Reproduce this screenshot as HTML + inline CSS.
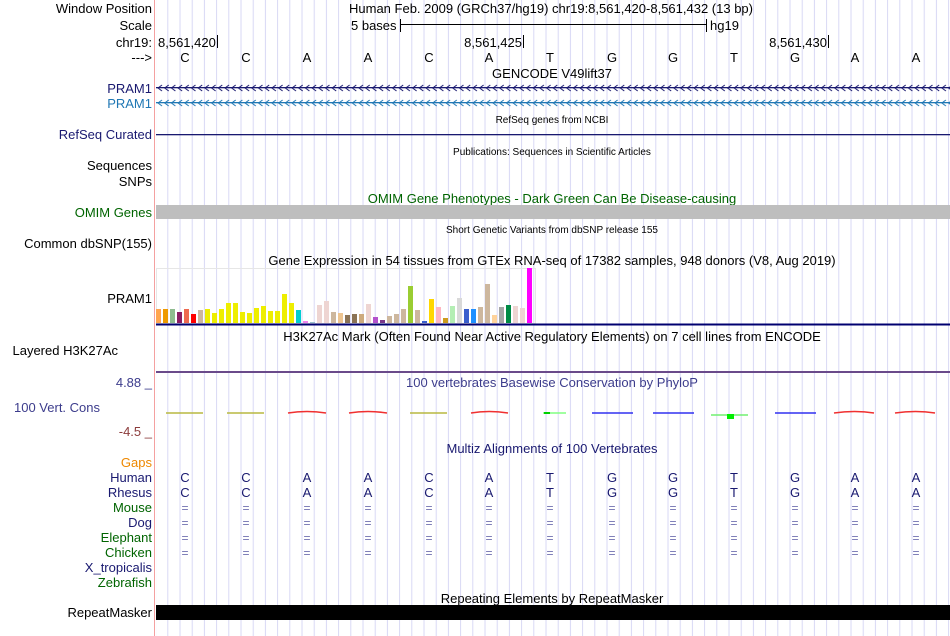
<!DOCTYPE html>
<html><head><meta charset="utf-8"><style>
html,body{margin:0;padding:0;background:#fff;width:950px;height:636px;overflow:hidden}
svg text{font-family:"Liberation Sans",Arial,sans-serif}
</style></head><body>
<svg width="950" height="636" xmlns="http://www.w3.org/2000/svg">
<defs>
<pattern id="grid" x="167.3" y="0" width="12.2" height="636" patternUnits="userSpaceOnUse">
<rect x="0" y="0" width="1" height="636" fill="#d8d8f4"/>
</pattern>
<pattern id="chev1" x="157" y="84" width="6.7" height="8" patternUnits="userSpaceOnUse">
<polyline points="5,1 1,4 5,7" fill="none" stroke="#191970" stroke-width="1"/>
</pattern>
<pattern id="chev2" x="157" y="99" width="6.7" height="8" patternUnits="userSpaceOnUse">
<polyline points="5,1 1,4 5,7" fill="none" stroke="#1f77b4" stroke-width="1"/>
</pattern>
</defs>
<rect x="156" y="0" width="794" height="636" fill="url(#grid)"/>
<rect x="154" y="0" width="1" height="636" fill="#f4a0a0"/>

<g font-size="13" fill="#000" text-anchor="end">
<text x="152" y="13">Window Position</text>
<text x="152" y="30">Scale</text>
<text x="152" y="47">chr19:</text>
<text x="152" y="62">---&gt;</text>
<text x="152" y="93" fill="#191970">PRAM1</text>
<text x="152" y="108" fill="#1f77b4">PRAM1</text>
<text x="152" y="139" fill="#191970">RefSeq Curated</text>
<text x="152" y="170">Sequences</text>
<text x="152" y="186">SNPs</text>
<text x="152" y="217" fill="#006400">OMIM Genes</text>
<text x="152" y="248">Common dbSNP(155)</text>
<text x="152" y="303">PRAM1</text>
<text x="118" y="355">Layered H3K27Ac</text>
<text x="152" y="387" fill="#3c3c8c">4.88 _</text>
<text x="100" y="412" fill="#3c3c8c">100 Vert. Cons</text>
<text x="152" y="436" fill="#8c3c3c">-4.5 _</text>
<text x="152" y="467" fill="#ee8800">Gaps</text>
<text x="152" y="482" fill="#191970">Human</text>
<text x="152" y="497" fill="#191970">Rhesus</text>
<text x="152" y="512" fill="#006400">Mouse</text>
<text x="152" y="527" fill="#191970">Dog</text>
<text x="152" y="542" fill="#006400">Elephant</text>
<text x="152" y="557" fill="#006400">Chicken</text>
<text x="152" y="572" fill="#191970">X_tropicalis</text>
<text x="152" y="587" fill="#006400">Zebrafish</text>
<text x="152" y="617">RepeatMasker</text>
</g>

<g font-size="13" fill="#000">
<text x="349" y="13">Human Feb. 2009 (GRCh37/hg19)   chr19:8,561,420-8,561,432 (13 bp)</text>
<text x="351" y="30">5 bases</text>
<text x="710" y="30">hg19</text>
<text x="158" y="47">8,561,420</text>
<text x="522" y="47" text-anchor="end">8,561,425</text>
<text x="827" y="47" text-anchor="end">8,561,430</text>
<text x="552" y="78" text-anchor="middle">GENCODE V49lift37</text>
<text x="552" y="265" text-anchor="middle">Gene Expression in 54 tissues from GTEx RNA-seq of 17382 samples, 948 donors (V8, Aug 2019)</text>
<text x="552" y="341" text-anchor="middle">H3K27Ac Mark (Often Found Near Active Regulatory Elements) on 7 cell lines from ENCODE</text>
<text x="552" y="387" text-anchor="middle" fill="#3c3c8c">100 vertebrates Basewise Conservation by PhyloP</text>
<text x="552" y="453" text-anchor="middle" fill="#191970">Multiz Alignments of 100 Vertebrates</text>
<text x="552" y="603" text-anchor="middle">Repeating Elements by RepeatMasker</text>
<text x="552" y="203" text-anchor="middle" fill="#006400">OMIM Gene Phenotypes - Dark Green Can Be Disease-causing</text>
</g>
<g font-size="10" fill="#000" text-anchor="middle">
<text x="552" y="123">RefSeq genes from NCBI</text>
<text x="552" y="155">Publications: Sequences in Scientific Articles</text>
<text x="552" y="233">Short Genetic Variants from dbSNP release 155</text>
</g>

<!-- scale bar -->
<rect x="400" y="19" width="1" height="13" fill="#000"/>
<rect x="706" y="19" width="1" height="13" fill="#000"/>
<rect x="400" y="24" width="306" height="1" fill="#000"/>
<rect x="217" y="35" width="1" height="13" fill="#000"/>
<rect x="523" y="35" width="1" height="13" fill="#000"/>
<rect x="828" y="35" width="1" height="13" fill="#000"/>

<!-- bases -->
<g font-size="13" fill="#000" text-anchor="middle">
<text x="185" y="62">C</text><text x="246" y="62">C</text><text x="307" y="62">A</text><text x="368" y="62">A</text><text x="429" y="62">C</text><text x="489" y="62">A</text><text x="550" y="62">T</text><text x="612" y="62">G</text><text x="673" y="62">G</text><text x="734" y="62">T</text><text x="795" y="62">G</text><text x="855" y="62">A</text><text x="916" y="62">A</text>
</g>

<!-- genes -->
<rect x="156" y="87" width="794" height="1.3" fill="#191970"/>
<rect x="157" y="84" width="793" height="8" fill="url(#chev1)"/>
<rect x="156" y="102" width="794" height="1.3" fill="#1f77b4"/>
<rect x="157" y="99" width="793" height="8" fill="url(#chev2)"/>
<rect x="156" y="134" width="794" height="1.3" fill="#191970"/>

<rect x="156" y="205" width="794" height="14" fill="#bebebe"/>

<!-- GTEx -->
<rect x="156.5" y="268.5" width="379" height="55" fill="none" stroke="#e6e6e6" stroke-width="1"/>
<g>
<rect x="156" y="309" width="5" height="14" fill="#FFA54F"/>
<rect x="163" y="309" width="5" height="14" fill="#EE9A00"/>
<rect x="170" y="309" width="5" height="14" fill="#8FBC8F"/>
<rect x="177" y="312" width="5" height="11" fill="#8B1C62"/>
<rect x="184" y="309" width="5" height="14" fill="#EE6A50"/>
<rect x="191" y="314" width="5" height="9" fill="#FF0000"/>
<rect x="198" y="310" width="5" height="13" fill="#CDB79E"/>
<rect x="205" y="309" width="5" height="14" fill="#EEEE00"/>
<rect x="212" y="313" width="5" height="10" fill="#EEEE00"/>
<rect x="219" y="309" width="5" height="14" fill="#EEEE00"/>
<rect x="226" y="303" width="5" height="20" fill="#EEEE00"/>
<rect x="233" y="303" width="5" height="20" fill="#EEEE00"/>
<rect x="240" y="312" width="5" height="11" fill="#EEEE00"/>
<rect x="247" y="313" width="5" height="10" fill="#EEEE00"/>
<rect x="254" y="308" width="5" height="15" fill="#EEEE00"/>
<rect x="261" y="306" width="5" height="17" fill="#EEEE00"/>
<rect x="268" y="311" width="5" height="12" fill="#EEEE00"/>
<rect x="275" y="311" width="5" height="12" fill="#EEEE00"/>
<rect x="282" y="294" width="5" height="29" fill="#EEEE00"/>
<rect x="289" y="303" width="5" height="20" fill="#EEEE00"/>
<rect x="296" y="310" width="5" height="13" fill="#00CED1"/>
<rect x="303" y="321" width="5" height="2" fill="#EE82EE"/>
<rect x="310" y="322" width="5" height="1" fill="#9AC0CD"/>
<rect x="317" y="305" width="5" height="18" fill="#EED5D2"/>
<rect x="324" y="301" width="5" height="22" fill="#EED5D2"/>
<rect x="331" y="312" width="5" height="11" fill="#CDB79E"/>
<rect x="338" y="313" width="5" height="10" fill="#EEC591"/>
<rect x="345" y="315" width="5" height="8" fill="#8B7355"/>
<rect x="352" y="314" width="5" height="9" fill="#8B7355"/>
<rect x="359" y="314" width="5" height="9" fill="#CDAA7D"/>
<rect x="366" y="304" width="5" height="19" fill="#EED5D2"/>
<rect x="373" y="317" width="5" height="6" fill="#B452CD"/>
<rect x="380" y="320" width="5" height="3" fill="#7A378B"/>
<rect x="387" y="316" width="5" height="7" fill="#CDB79E"/>
<rect x="394" y="314" width="5" height="9" fill="#CDB79E"/>
<rect x="401" y="309" width="5" height="14" fill="#CDB79E"/>
<rect x="408" y="286" width="5" height="37" fill="#9ACD32"/>
<rect x="415" y="310" width="5" height="13" fill="#CDB79E"/>
<rect x="422" y="321" width="5" height="2" fill="#3A5FCD"/>
<rect x="429" y="299" width="5" height="24" fill="#FFD700"/>
<rect x="436" y="307" width="5" height="16" fill="#FFB6C1"/>
<rect x="443" y="318" width="5" height="5" fill="#CD9B1D"/>
<rect x="450" y="306" width="5" height="17" fill="#B4EEB4"/>
<rect x="457" y="298" width="5" height="25" fill="#D9D9D9"/>
<rect x="464" y="309" width="5" height="14" fill="#3A5FCD"/>
<rect x="471" y="309" width="5" height="14" fill="#1E90FF"/>
<rect x="478" y="307" width="5" height="16" fill="#CDB79E"/>
<rect x="485" y="284" width="5" height="39" fill="#CDB79E"/>
<rect x="492" y="315" width="5" height="8" fill="#FFD39B"/>
<rect x="499" y="307" width="5" height="16" fill="#A6A6A6"/>
<rect x="506" y="305" width="5" height="18" fill="#008B45"/>
<rect x="513" y="306" width="5" height="17" fill="#EED5D2"/>
<rect x="520" y="308" width="5" height="15" fill="#EED5D2"/>
<rect x="527" y="268" width="5" height="55" fill="#FF00FF"/>
</g>
<rect x="156" y="323.5" width="794" height="2" fill="#000070"/>
<rect x="156" y="371" width="794" height="2" fill="#6a4a8a"/>

<!-- conservation -->
<g stroke-width="1.5">
<line x1="166" y1="413" x2="203" y2="413" stroke="#b8b840"/>
<line x1="227" y1="413" x2="264" y2="413" stroke="#b8b840"/>
<path d="M288,413 Q307,410 326,413" fill="none" stroke="#f03030"/>
<path d="M349,413 Q368,410 387,413" fill="none" stroke="#f03030"/>
<line x1="410" y1="413" x2="447" y2="413" stroke="#b8b840"/>
<path d="M471,413 Q489,410 508,413" fill="none" stroke="#f03030"/>
<line x1="543" y1="413" x2="566" y2="413" stroke="#80ff80"/>
<rect x="544" y="412" width="6" height="2" fill="#00d000" stroke="none"/>
<line x1="592" y1="413" x2="633" y2="413" stroke="#3030f0"/>
<line x1="653" y1="413" x2="694" y2="413" stroke="#3030f0"/>
<line x1="711" y1="415" x2="748" y2="415" stroke="#70f070"/>
<line x1="775" y1="413" x2="816" y2="413" stroke="#3030f0"/>
<path d="M834,413 Q855,410 874,413" fill="none" stroke="#f03030"/>
<path d="M895,413 Q916,410 935,413" fill="none" stroke="#f03030"/>
</g>
<rect x="727" y="414" width="7" height="5" fill="#00ee00"/>

<!-- multiz -->
<g font-size="13" fill="#191970" text-anchor="middle">
<text x="185" y="482">C</text><text x="246" y="482">C</text><text x="307" y="482">A</text><text x="368" y="482">A</text><text x="429" y="482">C</text><text x="489" y="482">A</text><text x="550" y="482">T</text><text x="612" y="482">G</text><text x="673" y="482">G</text><text x="734" y="482">T</text><text x="795" y="482">G</text><text x="855" y="482">A</text><text x="916" y="482">A</text>
<text x="185" y="497">C</text><text x="246" y="497">C</text><text x="307" y="497">A</text><text x="368" y="497">A</text><text x="429" y="497">C</text><text x="489" y="497">A</text><text x="550" y="497">T</text><text x="612" y="497">G</text><text x="673" y="497">G</text><text x="734" y="497">T</text><text x="795" y="497">G</text><text x="855" y="497">A</text><text x="916" y="497">A</text>
</g>
<g font-size="12" fill="#7070b0" text-anchor="middle">
<text x="185" y="512">=</text><text x="246" y="512">=</text><text x="307" y="512">=</text><text x="368" y="512">=</text><text x="429" y="512">=</text><text x="489" y="512">=</text><text x="550" y="512">=</text><text x="612" y="512">=</text><text x="673" y="512">=</text><text x="734" y="512">=</text><text x="795" y="512">=</text><text x="855" y="512">=</text><text x="916" y="512">=</text>
<text x="185" y="527">=</text><text x="246" y="527">=</text><text x="307" y="527">=</text><text x="368" y="527">=</text><text x="429" y="527">=</text><text x="489" y="527">=</text><text x="550" y="527">=</text><text x="612" y="527">=</text><text x="673" y="527">=</text><text x="734" y="527">=</text><text x="795" y="527">=</text><text x="855" y="527">=</text><text x="916" y="527">=</text>
<text x="185" y="542">=</text><text x="246" y="542">=</text><text x="307" y="542">=</text><text x="368" y="542">=</text><text x="429" y="542">=</text><text x="489" y="542">=</text><text x="550" y="542">=</text><text x="612" y="542">=</text><text x="673" y="542">=</text><text x="734" y="542">=</text><text x="795" y="542">=</text><text x="855" y="542">=</text><text x="916" y="542">=</text>
<text x="185" y="557">=</text><text x="246" y="557">=</text><text x="307" y="557">=</text><text x="368" y="557">=</text><text x="429" y="557">=</text><text x="489" y="557">=</text><text x="550" y="557">=</text><text x="612" y="557">=</text><text x="673" y="557">=</text><text x="734" y="557">=</text><text x="795" y="557">=</text><text x="855" y="557">=</text><text x="916" y="557">=</text>
</g>

<rect x="156" y="605" width="794" height="15" fill="#000"/>
</svg>
</body></html>
